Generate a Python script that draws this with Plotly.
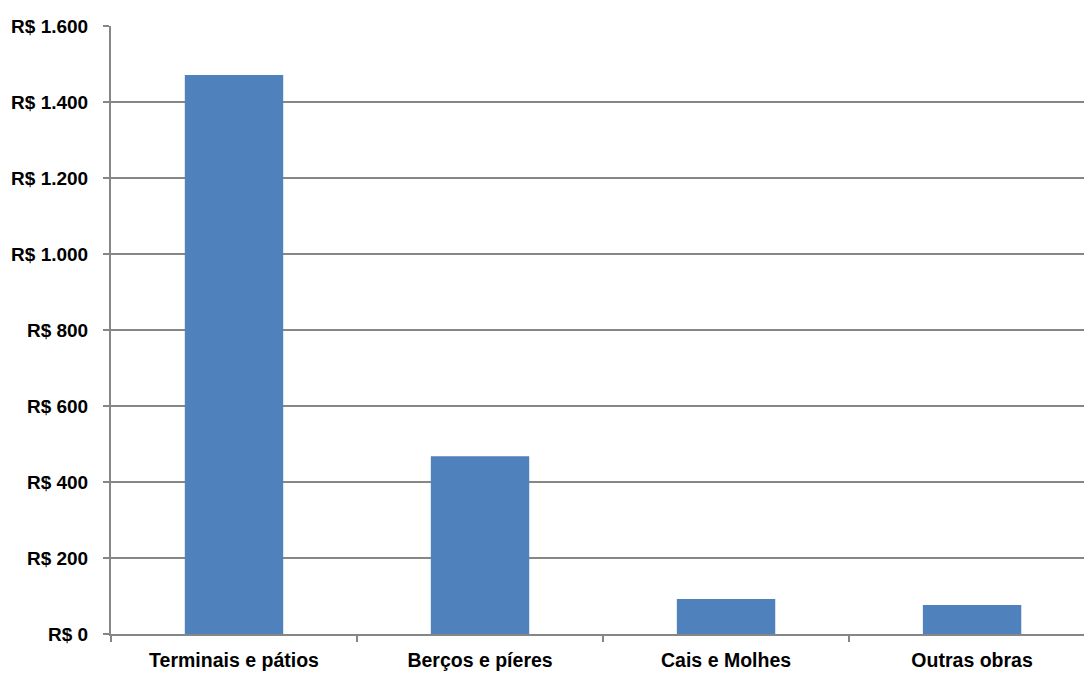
import plotly.graph_objects as go

categories = ["Terminais e pátios", "Berços e píeres", "Cais e Molhes", "Outras obras"]
values = [1471, 468, 92, 76]
y_tickvals = [0, 200, 400, 600, 800, 1000, 1200, 1400, 1600]
y_ticktext = ["R$ 0", "R$ 200", "R$ 400", "R$ 600", "R$ 800", "R$ 1.000", "R$ 1.200", "R$ 1.400", "R$ 1.600"]

font_family = "Liberation Sans Narrow, Arial Narrow, Liberation Sans, Arial, sans-serif"

fig = go.Figure(go.Bar(
    x=categories, y=values, width=0.4,
    marker=dict(color="#4F81BD", line=dict(width=0)),
))

fig.update_layout(
    width=1084, height=673,
    margin=dict(l=111, r=0, t=26, b=39),
    paper_bgcolor="white", plot_bgcolor="white",
    showlegend=False,
    font=dict(family=font_family, size=18, color="black"),
    bargap=0.6,
)
fig.update_xaxes(
    range=[-0.5, 3.455],
    automargin=False,
    showline=True, linecolor="#868686", linewidth=2,
    ticks="outside", tickson="boundaries", ticklen=6, tickcolor="#868686", tickwidth=2,
    showgrid=False,
    tickfont=dict(family=font_family, size=19.5, color="black", weight="bold"),
    ticklabelstandoff=8,
)
fig.update_yaxes(
    range=[0, 1600],
    automargin=False,
    tickvals=y_tickvals, ticktext=y_ticktext,
    showline=True, linecolor="#868686", linewidth=2,
    ticks="outside", ticklen=6, tickcolor="#868686", tickwidth=2,
    showgrid=True, gridcolor="#868686", gridwidth=1.5,
    zeroline=False,
    tickfont=dict(family=font_family, size=19, color="black", weight="bold"),
    ticklabelstandoff=11,
)

fig.write_html("out.html")
